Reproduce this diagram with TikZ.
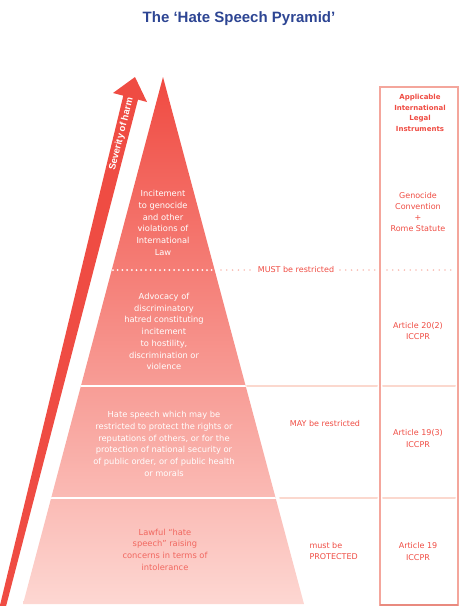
\documentclass[tikz,border=0pt]{standalone}
\usepackage{fontspec}
\setmainfont{DejaVu Sans}
\newfontfamily\titlefont{Liberation Sans}
\definecolor{hpred}{HTML}{EF4C43}
\definecolor{hptop}{HTML}{F04A41}
\definecolor{hpbottom}{HTML}{FDD7D2}
\definecolor{hpblue}{HTML}{2D4593}
\definecolor{hpdot}{HTML}{F8BDB4}
\definecolor{hpline}{HTML}{FBD8CE}
\definecolor{hpbox}{HTML}{F4A69C}
\definecolor{hpboxdark}{HTML}{E98A7F}
\begin{document}
\begin{tikzpicture}[x=1pt,y=-1pt,line cap=round,line join=round,
		tier/.style={text=white,align=center,font=\fontsize{8.3}{11.7}\selectfont},
		rtext/.style={text=hpred,align=center,font=\fontsize{8}{11.2}\selectfont},
		faint/.style={draw=hpline,line width=2},
		pinkdots/.style={draw=hpdot,line width=1.8,dash pattern=on 0pt off 5.8pt}]
	\useasboundingbox (0,0) rectangle (460,606);
	
	%title
	\node (title) at (239,19) {\titlefont\bfseries\fontsize{15}{16}\selectfont\color{hpblue}The ‘Hate Speech Pyramid’};
	
	%arrow
	\path[fill=hpred] (-0.2,606) -- (6.1,606) -- (138,99.6) -- (147,102) -- (135,77)
	-- (113,93) -- (123.3,95.7) -- cycle;
	\node[rotate=76,text=white,font=\titlefont\bfseries\fontsize{9.5}{10}\selectfont] (harm) at (121.5,134) {Severity of harm};
	
	%pyramid
	\shade[top color=hptop,bottom color=hpbottom] (163,77) -- (304,604) -- (23,604) -- cycle;
	\begin{scope}
		\clip (163,77) -- (304,604) -- (23,604) -- cycle;
		\draw[white,line width=2] (0,386) -- (320,386) (0,498) -- (320,498);
		\draw[white,line width=2,dash pattern=on 0pt off 4.7pt] (113,270) -- (216,270);
	\end{scope}
	
	\node[tier] (t1) at (163,223) {Incitement\\to genocide\\and other\\violations of\\International\\Law};
	\node[tier] (t2) at (164,331.5) {Advocacy of\\discriminatory\\hatred constituting\\incitement\\to hostility,\\discrimination or\\violence};
	\node[tier] (t3) at (164,444) {Hate speech which may be\\restricted to protect the rights or\\reputations of others, or for the\\protection of national security or\\of public order, or of public health\\or morals};
	\node[tier,text=hpred!85!white] (t4) at (165,549.5) {Lawful “hate\\speech” raising\\concerns in terms of\\intolerance};
	
	%right side
	\draw[pinkdots] (221,270) -- (252,270) (340,270) -- (378,270) (387,270) -- (456,270);
	\draw[faint] (247,386) -- (377,386) (383,386) -- (455,386);
	\draw[faint] (280,498) -- (377,498) (383,498) -- (455,498);
	\draw[hpbox,line width=1.5,line cap=butt,line join=miter] (380,87) rectangle (458,605);
	\draw[hpboxdark,line width=1.5,line cap=butt] (380,605) -- (458,605);
	
	\node[rtext] (must) at (296,270) {MUST be restricted};
	\node[rtext] (may) at (325,424) {MAY be restricted};
	\node[rtext,align=left,anchor=west] (prot) at (306,551) {must be\\PROTECTED};
	
	\node[rtext,font=\bfseries\fontsize{7}{10.7}\selectfont] (head) at (420,113) {Applicable\\International\\Legal\\Instruments};
	\node[rtext] (geno) at (418,212) {Genocide\\Convention\\+\\Rome Statute};
	\node[rtext] (a20) at (418,331) {Article 20(2)\\ICCPR};
	\node[rtext] (a193) at (418,438.5) {Article 19(3)\\ICCPR};
	\node[rtext] (a19) at (418,551.5) {Article 19\\ICCPR};
\end{tikzpicture}
\end{document}
